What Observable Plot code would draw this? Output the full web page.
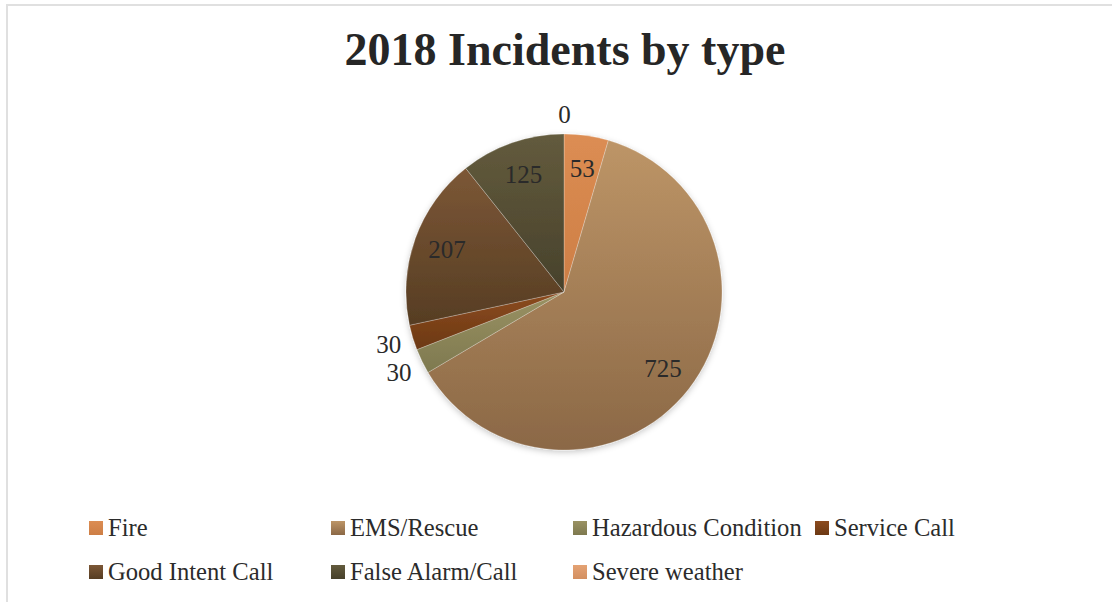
<!DOCTYPE html>
<html>
<head>
<meta charset="utf-8">
<script src="https://cdn.jsdelivr.net/npm/d3@7"></script>
<script src="https://cdn.jsdelivr.net/npm/@observablehq/plot@0.6"></script>
<style>
  html, body { margin: 0; padding: 0; background: #fff; }
  #page { position: relative; width: 1112px; height: 602px; overflow: hidden; background: #fff; }
  #frame { position: absolute; left: 6px; top: 4px; width: 1120px; height: 610px;
           border-top: 2px solid #e0e0e0; border-left: 2px solid #e0e0e0; box-sizing: border-box; }
  #title { position: absolute; left: 0; top: 27px; width: 1130px; text-align: center;
           font-family: "Liberation Serif", serif; font-weight: bold; font-size: 46px; line-height: 46px; color: #262626; }
  #chart { position: absolute; left: 0; top: 100px; }
  .lg-item { position: absolute; height: 24px; }
  .lg-sw { position: absolute; left: 0; top: 5px; width: 14px; height: 14px; }
  .lg-tx { position: absolute; left: 19px; top: 0; white-space: nowrap; font-family: "Liberation Serif", serif;
           font-size: 24.6px; line-height: 24px; color: #2b2b2b; }
</style>
</head>
<body>
<div id="page">
  <div id="frame"></div>
  <div id="title">2018 Incidents by type</div>
  <div id="chart"></div>
  <div id="legend"></div>
</div>
<script>
// ---- data ----
const categories = ["Fire", "EMS/Rescue", "Hazardous Condition", "Service Call", "Good Intent Call", "False Alarm/Call", "Severe weather"];
const counts = [53, 725, 30, 30, 207, 125, 0];

// ---- palette ----
const topColors    = ["#dc8d53", "#bd9567", "#9a9263", "#8c4b1f", "#7c5736", "#635b3d", "#e4a274"];
const bottomColors = ["#cd7e45", "#8b6846", "#7e794f", "#6c3914", "#563d23", "#47412b", "#d38f60"];

// ---- layout ----
const W = 1112, H = 400;
const CX = 564, CY = 192, R = 158;

const rows = categories.map((c, i) => ({category: c, value: counts[i], index: i}));
const total = d3.sum(counts);
const arcs = d3.pie().sort(null).value(d => d.value).startAngle(0).endAngle(2 * Math.PI)(rows);

// label positions in unit-circle coordinates
const labelFont = 25;
const labels = arcs.map(a => {
  const mid = (a.startAngle + a.endAngle) / 2;
  const inside = a.value / total > 0.04;
  const txt = String(a.value);
  let k;
  if (inside) k = 0.79;
  else {
    const w = txt.length * labelFont * 0.5, h = labelFont * 0.7;
    const half = Math.abs(Math.sin(mid)) * w / 2 + Math.abs(Math.cos(mid)) * h / 2;
    k = 1 + (11 + half) / R;
  }
  return {label: txt, x: Math.sin(mid) * k, y: Math.cos(mid) * k};
});

function pieMark(index, scales, values, dims, context) {
  const cx = scales.x(0), cy = scales.y(0), r = scales.x(1) - scales.x(0);
  const g = d3.create("svg:g");
  const defs = g.append("defs");
  const f = defs.append("filter").attr("id", "pieShadow").attr("x", "-20%").attr("y", "-20%").attr("width", "140%").attr("height", "140%");
  f.append("feDropShadow").attr("dx", 0).attr("dy", 2).attr("stdDeviation", 3).attr("flood-color", "#000").attr("flood-opacity", 0.22);
  arcs.forEach(a => {
    const lg = defs.append("linearGradient").attr("id", "grad" + a.index)
      .attr("x1", 0).attr("y1", 0).attr("x2", 0).attr("y2", 1);
    lg.append("stop").attr("offset", "0%").attr("stop-color", topColors[a.index]);
    lg.append("stop").attr("offset", "100%").attr("stop-color", bottomColors[a.index]);
  });
  const arc = d3.arc().innerRadius(0).outerRadius(r);
  g.append("g").attr("transform", `translate(${cx},${cy})`).attr("filter", "url(#pieShadow)")
    .selectAll("path").data(arcs.filter(a => a.value > 0)).join("path")
    .attr("d", arc)
    .attr("fill", a => `url(#grad${a.index})`)
    .attr("stroke", "rgba(255,255,255,0.35)")
    .attr("stroke-width", 0.7);
  return g.node();
}

const chart = Plot.plot({
  width: W, height: H,
  margin: 0,
  style: {background: "transparent"},
  x: {domain: [-1, 1], range: [CX - R, CX + R], axis: null},
  y: {domain: [-1, 1], range: [CY + R, CY - R], axis: null},
  marks: [
    pieMark,
    Plot.text(labels, {x: "x", y: "y", text: "label", fontSize: labelFont,
      fontFamily: "Liberation Serif, serif", fill: "#2a2a2a"})
  ]
});
document.getElementById("chart").appendChild(chart);

// ---- legend ----
const legendOrder = [[0, 1, 2, 3], [4, 5, 6]];
const legendEl = document.getElementById("legend");
legendOrder.forEach((row, ri) => {
  row.forEach((ci, j) => {
    const item = document.createElement("div");
    item.className = "lg-item";
    item.style.left = (89 + j * 242) + "px";
    item.style.top = (516 + ri * 43.5) + "px";
    const sw = document.createElement("div");
    sw.className = "lg-sw";
    sw.style.background = `linear-gradient(${topColors[ci]}, ${bottomColors[ci]})`;
    const tx = document.createElement("div");
    tx.className = "lg-tx";
    tx.textContent = categories[ci];
    item.appendChild(sw);
    item.appendChild(tx);
    legendEl.appendChild(item);
  });
});
</script>
</body>
</html>
